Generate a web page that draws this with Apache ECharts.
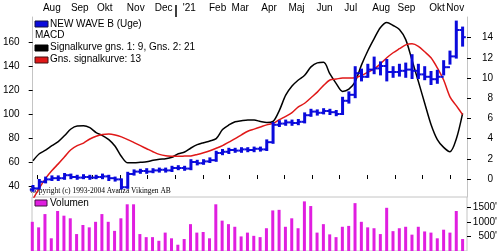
<!DOCTYPE html>
<html><head><meta charset="utf-8">
<script src="https://cdn.jsdelivr.net/npm/echarts@6/dist/echarts.min.js"></script>
<style>html,body{margin:0;padding:0;background:#fff}#c{width:500px;height:251px}</style>
</head><body><div id="c"></div>
<script>
// ---- data ----
const weeks = ['2020-07-27','2020-08-03','2020-08-10','2020-08-17','2020-08-24','2020-08-31','2020-09-07','2020-09-14','2020-09-21','2020-09-28',
'2020-10-05','2020-10-12','2020-10-19','2020-10-26','2020-11-02','2020-11-09','2020-11-16','2020-11-23','2020-11-30','2020-12-07',
'2020-12-14','2020-12-21','2020-12-28','2021-01-04','2021-01-11','2021-01-18','2021-01-25','2021-02-01','2021-02-08','2021-02-15',
'2021-02-22','2021-03-01','2021-03-08','2021-03-15','2021-03-22','2021-03-29','2021-04-05','2021-04-12','2021-04-19','2021-04-26',
'2021-05-03','2021-05-10','2021-05-17','2021-05-24','2021-05-31','2021-06-07','2021-06-14','2021-06-21','2021-06-28','2021-07-05',
'2021-07-12','2021-07-19','2021-07-26','2021-08-02','2021-08-09','2021-08-16','2021-08-23','2021-08-30','2021-09-06','2021-09-13',
'2021-09-20','2021-09-27','2021-10-04','2021-10-11','2021-10-18','2021-10-25','2021-11-01','2021-11-08','2021-11-15'];

const priceOpen = [37,38,43.5,45.5,46.5,46.5,49,47.5,47,47.5,47,47.5,48,46.5,45.5,39,50,52,52.5,52,
53,53.5,53,55,55,54.5,60,59,60.5,61.5,67.5,68.5,70,69.5,70.5,70,71,70.5,76.5,91,
92,93,92.5,93.5,99,102,101,102.5,101.5,100,111,116,134,131,137,138,140,135,135,136,
137,136,133,131,129,131,139,148,170];
const priceHigh = [40,45,47,48,48,50,49.5,48.5,49,48.5,48.5,49.5,48.5,47,45.5,51,53,53.5,54,54,
54.5,54.5,56,56.5,56,61.5,61,61.5,63,68.5,70,71,71,71.5,71.5,72,72,78,92.5,94,
94.5,94.5,95,100.5,103.5,103,104,103.5,102.5,113.5,118,139,137,141,147,143,145,139,141,142,
149,141,139,135,136,144,152,177,172];
const priceLow = [36,38,43,45,45,46,46.5,46,46.5,46,46.5,46.5,45,44.5,38,38.5,49.5,51,51,51.5,
52,52,52.5,54,53.5,54,58,58.5,60,61,66.5,67.5,68.5,68.5,69,69,69.5,70,76,90,
91,91,91.5,93,98.5,99.5,100.5,100,99,100,109.5,114,128,131,134,133,128,131,132,131,
130,130,129,125,126,133,142,147,157];
const priceClose = [38,43.5,45.5,46.5,46.5,49,47.5,47,47.5,47,47.5,48,46.5,45.5,39,50,52,52.5,52,53,
53.5,53,55,55,54.5,60,59,60.5,61.5,67.5,68.5,70,69.5,70.5,70,71,70.5,76.5,91,92,
93,92.5,93.5,99,102,101,102.5,101.5,100,111,116,134,131,137,138,140,135,135,136,137,
136,133,131,129,131,139,148,170,164];

const macdLine = [1.8,2.5,2.85,3.3,3.7,4.3,4.95,5.25,5.27,5.08,4.6,4.3,3.9,3.25,2.23,1.6,1.6,1.65,1.7,1.85,
1.96,2.0,2.15,2.5,2.67,3.07,3.4,3.6,3.77,4.0,4.9,5.35,5.67,5.77,5.84,5.84,5.7,5.6,5.7,6.8,
8.3,9.2,9.8,10.27,11.1,11.5,11.55,10.4,9.45,8.67,8.9,9.65,11.3,12.7,13.9,15.0,15.5,15.2,14.8,13.8,
11.75,9.65,7.5,5.4,3.9,3.13,2.7,3.96,6.5];
const signalLine = [-2.0,-0.9,0.07,0.84,1.5,2.2,2.9,3.3,3.56,3.96,4.24,4.4,4.45,4.36,4.17,3.9,3.6,3.3,3.0,2.7,
2.44,2.3,2.26,2.25,2.27,2.29,2.43,2.6,2.8,3.04,3.3,3.66,4.0,4.38,4.73,4.94,5.15,5.36,5.52,5.88,
6.2,6.58,7.14,7.5,8.05,8.6,9.27,9.8,9.9,10.0,10.0,10.03,10.25,10.57,10.9,11.4,12.0,12.5,12.9,13.28,
13.38,13.14,12.6,12.0,11.0,9.8,8.14,7.26,6.38];

const volume = [1000,810,1265,435,1370,1210,1120,580,890,810,1000,1265,1000,690,1120,1600,1600,580,475,475,
350,630,435,215,410,920,630,650,435,1600,1040,920,830,500,630,520,475,780,1390,1410,
830,1120,780,1700,1540,630,920,570,475,830,860,1640,1000,810,780,580,1480,680,780,830,
560,830,670,630,435,730,630,1370,410];

const monthTickDates = ['2020-08-01','2020-09-01','2020-10-01','2020-11-01','2020-12-01','2021-01-01','2021-02-01','2021-03-01',
'2021-04-01','2021-05-01','2021-06-01','2021-07-01','2021-08-01','2021-09-01','2021-10-01','2021-11-01'];
const monthLabelDates = ['2020-08-07','2020-09-07','2020-10-06','2020-11-08','2020-12-09','2021-01-09','2021-02-07','2021-03-04',
'2021-04-06','2021-05-06','2021-06-06','2021-07-07','2021-08-07','2021-09-04','2021-10-09','2021-10-28'];
const monthLabels = ['Aug','Sep','Okt','Nov','Dec',"'21",'Feb','Mar','Apr','Maj','Jun','Jul','Aug','Sep','Okt','Nov'];
const yearTickDates = ['2021-01-01'];
const priceTicks = [40,60,80,100,120,140,160];
const macdTicks = [0,2,4,6,8,10,12,14];
const volTicks = [500,1000,1500];

// ---- build ----
const DAY = 86400000;
const ts = s => { const [y,m,d] = s.split('-').map(Number); return Date.UTC(y, m-1, d); };
const xMin = ts('2020-07-27') - 0.33*DAY;
const xMax = xMin + 481.2*DAY;
const wT = weeks.map(ts);
const ohlc = wT.map((t,i)=>[t, priceOpen[i], priceHigh[i], priceLow[i], priceClose[i]]);
const labelT = monthLabelDates.map(ts);

const FONT = 'Liberation Sans';
const BLUE = '#0a0adc', RED = '#e01818', MAG = '#e01ee0';
const txt = {color:'#000', fontFamily:FONT, fontSize:10};

const chart = echarts.init(document.getElementById('c'), null, {renderer:'canvas'});
chart.setOption({
  animation:false,
  backgroundColor:'#fff',
  grid:[
    {left:32, right:33, top:17, height:180},
    {left:32, right:33, top:197, bottom:0, show:true, borderColor:'#c4c4c4', borderWidth:1}
  ],
  xAxis:[
    {gridIndex:0, type:'value', position:'top', min:xMin, max:xMax, splitLine:{show:false},
     axisLine:{show:false},
     axisTick:{show:true, customValues:monthTickDates.map(ts), length:4, lineStyle:{color:'#000'}},
     axisLabel:{show:true, customValues:labelT, align:'left', margin:4, ...txt,
       formatter:v=>{let b=0,bd=Infinity; labelT.forEach((t,i)=>{const d=Math.abs(t-v); if(d<bd){bd=d;b=i;}}); return monthLabels[b];}}},
    {gridIndex:0, type:'value', position:'top', min:xMin, max:xMax, splitLine:{show:false},
     axisLine:{show:false}, axisLabel:{show:false},
     axisTick:{show:true, customValues:yearTickDates.map(ts), length:12, lineStyle:{color:'#000', width:1.5}}},
    {gridIndex:1, type:'value', min:xMin, max:xMax, show:false}
  ],
  yAxis:[
    {gridIndex:0, type:'value', position:'left', min:30.83, max:180.83, splitLine:{show:false},
     axisLine:{show:true, lineStyle:{color:'#c4c4c4'}},
     axisTick:{show:true, customValues:priceTicks, length:4, lineStyle:{color:'#000'}},
     axisLabel:{customValues:priceTicks, margin:13, ...txt}},
    {gridIndex:0, type:'value', position:'right', min:-1.78, max:16.04, splitLine:{show:false},
     axisLine:{show:true, lineStyle:{color:'#c4c4c4'}},
     axisTick:{show:true, customValues:macdTicks, length:4, lineStyle:{color:'#000'}},
     axisLabel:{customValues:macdTicks, margin:26, align:'right', ...txt}},
    {gridIndex:1, type:'value', position:'right', min:0, max:1850, splitLine:{show:false},
     axisLine:{show:false},
     axisTick:{show:true, customValues:volTicks, length:4, lineStyle:{color:'#000'}},
     axisLabel:{customValues:volTicks, margin:30, align:'right', formatter:v=>v+"'", ...txt}}
  ],
  series:[
    {type:'line', name:'Signalkurve gns. 1: 9, Gns. 2: 21', xAxisIndex:0, yAxisIndex:1, symbol:'none', smooth:0.3,
     data:wT.map((t,i)=>[t, macdLine[i]]), lineStyle:{color:'#000', width:1.5}, z:2},
    {type:'line', name:'Gns. signalkurve: 13', xAxisIndex:0, yAxisIndex:1, symbol:'none', smooth:0.3,
     data:wT.map((t,i)=>[t, signalLine[i]]), lineStyle:{color:RED, width:1.5}, z:2},
    {type:'custom', name:'NEW WAVE B (Uge)', xAxisIndex:0, yAxisIndex:0, data:ohlc, encode:{x:0, y:[1,2,3,4]}, z:3,
     renderItem:function(params, api){
       const x = api.value(0);
       const pO = api.coord([x, api.value(1)]);
       const pH = api.coord([x, api.value(2)]);
       const pL = api.coord([x, api.value(3)]);
       const pC = api.coord([x, api.value(4)]);
       const h = 3.2;
       return {type:'group', children:[
         {type:'line', shape:{x1:pH[0], y1:pH[1]-1, x2:pL[0], y2:pL[1]+1}, style:{stroke:BLUE, lineWidth:3}},
         {type:'line', shape:{x1:pO[0]-h, y1:pO[1], x2:pO[0], y2:pO[1]}, style:{stroke:BLUE, lineWidth:2}},
         {type:'line', shape:{x1:pC[0], y1:pC[1], x2:pC[0]+h, y2:pC[1]}, style:{stroke:BLUE, lineWidth:2}}
       ]};
     }},
    {type:'bar', name:'Volumen', xAxisIndex:2, yAxisIndex:2, barWidth:3, data:wT.map((t,i)=>[t, volume[i]]),
     itemStyle:{color:MAG}}
  ],
  graphic:[
    {type:'rect', shape:{x:35, y:21, width:13, height:6}, style:{fill:BLUE, stroke:'#101040', lineWidth:1}},
    {type:'text', x:50, y:24, style:{text:'NEW WAVE B (Uge)', ...txt, fill:'#000', font:'10px '+FONT, verticalAlign:'middle'}},
    {type:'text', x:35, y:35, style:{text:'MACD', fill:'#000', font:'10px '+FONT, verticalAlign:'middle'}},
    {type:'rect', shape:{x:35, y:45, width:13, height:6}, style:{fill:'#000', stroke:'#000', lineWidth:1}},
    {type:'text', x:50, y:47, style:{text:'Signalkurve gns. 1: 9, Gns. 2: 21', fill:'#000', font:'10px '+FONT, verticalAlign:'middle'}},
    {type:'rect', shape:{x:35, y:57, width:13, height:6}, style:{fill:RED, stroke:'#401010', lineWidth:1}},
    {type:'text', x:50, y:59, style:{text:'Gns. signalkurve: 13', fill:'#000', font:'10px '+FONT, verticalAlign:'middle'}},
    {type:'text', x:30, y:191, style:{text:'Copyright (c) 1993-2004 Avanza Vikingen AB', fill:'#000', font:'7.5px Liberation Serif', verticalAlign:'middle'}},
    {type:'rect', shape:{x:35, y:200, width:12, height:6}, style:{fill:MAG, stroke:'#401040', lineWidth:1}},
    {type:'text', x:50, y:203, style:{text:'Volumen', fill:'#000', font:'10px '+FONT, verticalAlign:'middle'}}
  ]
});
</script></body></html>
